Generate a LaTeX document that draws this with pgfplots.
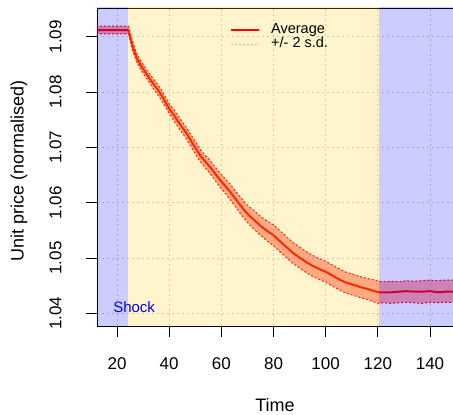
\documentclass[border=0pt]{standalone}
\usepackage{fontspec}
\setmainfont{Liberation Sans}
\usepackage{pgfplots}
\usepackage{pgfplotstable}
\pgfplotsset{compat=1.18}
\usepgfplotslibrary{fillbetween}

\definecolor{shockblue}{RGB}{0,0,255}
\definecolor{phaseyellow}{RGB}{255,200,0}
\definecolor{gridgray}{RGB}{205,205,205}
\definecolor{sdpink}{RGB}{255,170,170}

% time, average, lower and upper band (+/- 2 s.d.)
\pgfplotstableread{
t     m      lo     hi
12.0  1.0912 1.0905 1.0919
24.4  1.0912 1.0905 1.0919
25.0  1.0900 1.0892 1.0908
26.0  1.0883 1.0875 1.0891
27.5  1.0862 1.0854 1.0870
29.0  1.0849 1.0841 1.0857
30.7  1.0837 1.0829 1.0845
32.3  1.0826 1.0818 1.0834
33.9  1.0815 1.0806 1.0824
35.5  1.0805 1.0796 1.0814
37.1  1.0794 1.0785 1.0803
38.7  1.0781 1.0772 1.0790
40.3  1.0768 1.0759 1.0777
42.0  1.0757 1.0747 1.0767
43.5  1.0746 1.0736 1.0756
45.0  1.0736 1.0726 1.0746
46.7  1.0725 1.0715 1.0735
49.0  1.0707 1.0696 1.0718
51.8  1.0686 1.0675 1.0697
53.5  1.0676 1.0665 1.0687
55.6  1.0665 1.0653 1.0677
57.5  1.0653 1.0641 1.0665
59.5  1.0641 1.0628 1.0654
61.5  1.0630 1.0617 1.0643
63.3  1.0620 1.0606 1.0634
65.2  1.0608 1.0594 1.0622
67.2  1.0596 1.0581 1.0611
69.0  1.0585 1.0570 1.0600
71.0  1.0575 1.0559 1.0591
73.0  1.0567 1.0550 1.0584
75.0  1.0558 1.0541 1.0575
77.5  1.0549 1.0531 1.0567
80.0  1.0541 1.0522 1.0560
82.5  1.0530 1.0511 1.0549
85.1  1.0519 1.0500 1.0538
87.5  1.0509 1.0490 1.0528
90.2  1.0500 1.0481 1.0519
92.7  1.0492 1.0473 1.0511
95.3  1.0485 1.0466 1.0504
97.5  1.0480 1.0461 1.0499
100.0 1.0475 1.0456 1.0494
103.0 1.0467 1.0448 1.0486
105.7 1.0460 1.0441 1.0479
108.0 1.0455 1.0436 1.0474
110.9 1.0451 1.0432 1.0470
113.5 1.0447 1.0428 1.0466
116.0 1.0444 1.0425 1.0463
118.0 1.0441 1.0421 1.0461
120.2 1.0438 1.0418 1.0458
122.0 1.0438 1.0419 1.0457
125.0 1.0438 1.0418 1.0458
128.0 1.0439 1.0419 1.0457
131.0 1.0440 1.0420 1.0459
134.0 1.0439 1.0419 1.0458
137.0 1.0439 1.0418 1.0459
140.0 1.0440 1.0420 1.0460
143.0 1.0438 1.0419 1.0459
146.0 1.0439 1.0420 1.0460
150.0 1.0439 1.0419 1.0460
}\pricedata

\begin{document}
\begin{tikzpicture}
\begin{axis}[
    name=ax,
    scale only axis,
    width=359.1pt, height=318pt,
    xmin=12.33, xmax=150,
    ymin=1.0377, ymax=1.0952,
    xtick={20,40,60,80,100,120,140},
    ytick={1.04,1.05,1.06,1.07,1.08,1.09},
    yticklabel style={rotate=90, anchor=south,
        /pgf/number format/.cd, fixed, precision=2, fixed zerofill},
    tick label style={font=\fontsize{17}{20}\selectfont},
    xticklabel shift=17pt,
    yticklabel shift=21pt,
    /pgf/number format/assume math mode=true,
    tick align=outside,
    tick pos=left,
    major tick length=11pt,
    every tick/.style={black, line width=0.9pt},
    axis line style={black, line width=0.9pt},
    grid=major,
    major grid style={gridgray, line width=0.9pt, dash pattern=on 2pt off 3pt},
    xlabel={Time},
    ylabel={Unit price (normalised)},
    label style={font=\fontsize{18}{21}\selectfont},
    xlabel style={at={(axis description cs:0.4957,-0.25)}, anchor=center},
    ylabel style={at={(axis description cs:-0.2172,0.486)}, anchor=center},
    legend style={at={(axis description cs:0.362,0.962)}, anchor=north west,
        draw=none, fill=none, font=\fontsize{14.5}{16}\selectfont,
        nodes={inner sep=0pt, text height=11pt, text depth=3.7pt},
        /tikz/every odd column/.append style={column sep=11pt}},
    legend cell align=left,
    legend image code/.code={\draw[#1] (0pt,0pt) -- (28pt,0pt);},
]
\addplot[name path=hi, red, line width=1pt, dash pattern=on 2pt off 2pt, forget plot]
    table[x=t, y=hi]{\pricedata};
\addplot[name path=lo, red, line width=1pt, dash pattern=on 2pt off 2pt, forget plot]
    table[x=t, y=lo]{\pricedata};
\addplot[red, fill opacity=0.36, draw=none, forget plot] fill between[of=hi and lo];
\addplot[color=red, line width=2pt] table[x=t, y=m]{\pricedata};
\addlegendentry{Average}
\addlegendimage{color=sdpink, line width=1pt, dash pattern=on 2pt off 2pt}
\addlegendentry{+/- 2 s.d.}

% phases: shock periods and adjustment
\addplot[fill=phaseyellow, fill opacity=0.2, draw=none, forget plot]
    coordinates {(24.4,1.03) (120.6,1.03) (120.6,1.10) (24.4,1.10)} -- cycle;
\addplot[fill=shockblue, fill opacity=0.2, draw=none, forget plot]
    coordinates {(0,1.03) (24.4,1.03) (24.4,1.10) (0,1.10)} -- cycle;
\addplot[fill=shockblue, fill opacity=0.2, draw=none, forget plot]
    coordinates {(120.6,1.03) (160,1.03) (160,1.10) (120.6,1.10)} -- cycle;

\node[anchor=base west, inner sep=0pt, text=blue, font=\fontsize{15}{18}\selectfont]
    at (axis cs:18.5,1.0401) {Shock};
\end{axis}
\pgfresetboundingbox
\path[use as bounding box] ([shift={(-97pt,-89pt)}]ax.south west)
    rectangle ([shift={(356pt,326pt)}]ax.south west);
\end{tikzpicture}
\end{document}
